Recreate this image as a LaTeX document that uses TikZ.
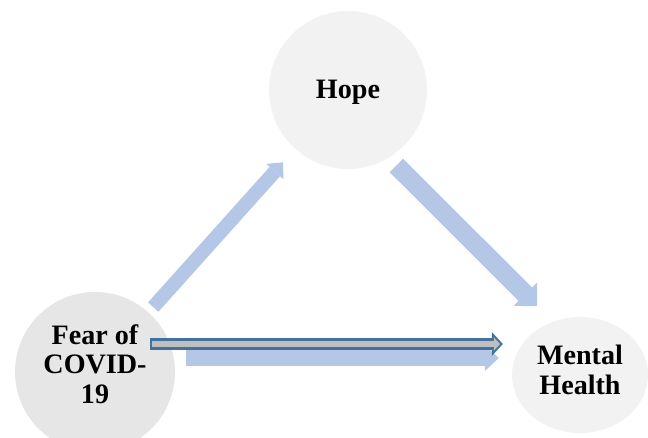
\documentclass[tikz,border=0pt]{standalone}
\usepackage{fontspec}
\setmainfont{Liberation Serif}
\usetikzlibrary{arrows.meta,shapes.geometric}
\definecolor{hopegray}{HTML}{F2F2F2}
\definecolor{feargray}{HTML}{E7E6E6}
\definecolor{pathblue}{HTML}{B4C7E7}
\definecolor{edgeblue}{HTML}{41719C}
\definecolor{bargray}{HTML}{BFBFBF}
\begin{document}
\begin{tikzpicture}[
  construct/.style={circle, fill=hopegray, inner sep=0pt, align=center,
    font=\bfseries\fontsize{24}{25.5}\selectfont},
  blockarrow/.style n args={3}{pathblue, line width=#1,
    -{Triangle[width=#2, length=#3, line width=0pt]}}
]
\useasboundingbox (0,0) rectangle (19.44,13.11);
\clip (0,0) rectangle (19.44,13.11);

\node [construct, minimum size=4.74cm, text height=0.7cm] (hope) at (10.44,10.41) {Hope};
\node [construct, fill=feargray, minimum size=4.8cm, text depth=0.48cm] (fear) at (2.85,1.95) {Fear of\\COVID-\\19};
\node [construct, ellipse, minimum width=4.08cm, minimum height=3.48cm, text depth=0.3cm] (mental) at (17.4,1.86) {Mental\\Health};

\draw [blockarrow={0.42cm}{0.69cm}{0.37cm}, shorten <=0.21cm, shorten >=0.54cm] (fear) -- (hope);
\draw [blockarrow={0.57cm}{0.99cm}{0.5cm}, shorten <=0.32cm, shorten >=0.66cm] (hope.-59) -- (mental.117);
\draw [blockarrow={0.48cm}{0.78cm}{0.42cm}, shorten <=0.36cm, shorten >=0.39cm] (fear.10) -- (fear.10 -| mental.west);

\coordinate (direct) at ([shift={(1.65cm,0.84cm)}]fear.center);
\draw [edgeblue, line width=0.33cm, -{Triangle[width=0.72cm, length=0.33cm, line width=0pt]}, shorten >=0.27cm] (direct) -- (direct -| mental.west);
\draw [bargray, line width=0.2cm, -{Triangle[width=0.41cm, length=0.19cm, line width=0pt]}, shorten <=0.06cm, shorten >=0.35cm] (direct) -- (direct -| mental.west);
\end{tikzpicture}
\end{document}
